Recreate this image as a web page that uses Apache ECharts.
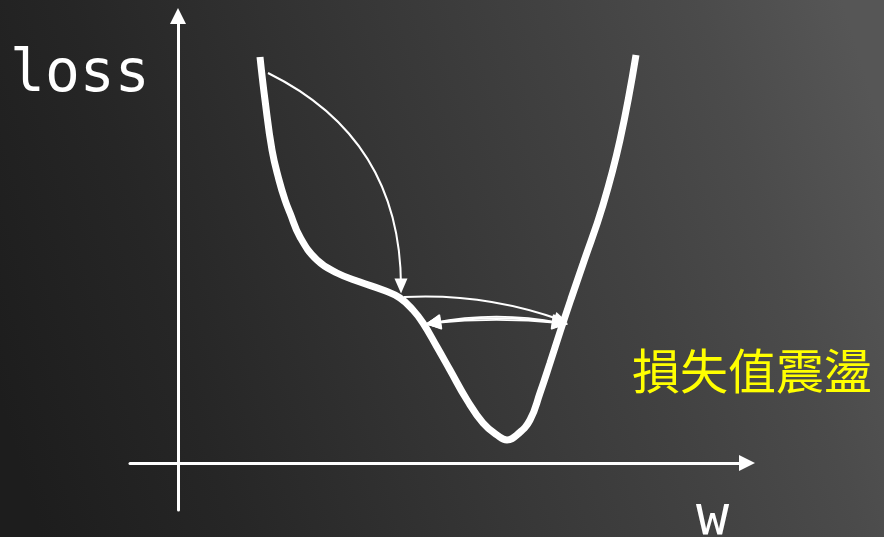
<!DOCTYPE html>
<html>
<head>
<meta charset="utf-8">
<script src="https://cdn.jsdelivr.net/npm/echarts@6/dist/echarts.min.js"></script>
<style>
html,body{margin:0;padding:0;background:#2a2a2a;}
#c{width:884px;height:537px;}
</style>
</head>
<body>
<div id="c"></div>
<script>
// Loss curve (w, loss) in arbitrary units
const curveW    = [0.82,0.87,0.94,1.01,1.07,1.12,1.22,1.39,1.59,1.82,2.05,2.22,2.35,2.45,2.59,2.72,2.89,3.05,3.19,3.29,3.40,3.52,3.62,3.72,3.82,3.93,4.05,4.25,4.42,4.58];
const curveLoss = [4.06,3.63,3.13,2.83,2.63,2.50,2.26,2.03,1.90,1.81,1.73,1.65,1.53,1.40,1.16,0.93,0.63,0.40,0.28,0.23,0.29,0.43,0.70,1.00,1.31,1.64,1.99,2.58,3.23,4.08];

// Step arrows: [from, to] in (w, loss)
const jumpArrow  = [[0.90,3.90],[2.23,1.77]];
const upperArrow = [[2.26,1.66],[3.83,1.43]];
const lowerArrow = [[2.55,1.40],[3.82,1.40]];

const axisLabelY = 'loss';
const axisLabelX = 'w';
const noteText = '損失值震盪';

const chart = echarts.init(document.getElementById('c'), null, {renderer:'canvas'});

const curveData = curveW.map((w,i)=>[w, curveLoss[i]]);

const axisCommon = {
  type:'value',
  axisLine:{show:true,onZero:true,symbol:['none','triangle'],symbolSize:[16,16],lineStyle:{color:'#ffffff',width:3}},
  axisTick:{show:false},
  axisLabel:{show:false},
  splitLine:{show:false}
};

chart.setOption({
  animation:false,
  backgroundColor:{
    type:'linear', x:0, y:0.75, x2:1, y2:0.25,
    colorStops:[
      {offset:0, color:'#1d1d1d'},
      {offset:0.2, color:'#262626'},
      {offset:0.5, color:'#373737'},
      {offset:0.7, color:'#424242'},
      {offset:0.85, color:'#4b4b4b'},
      {offset:1, color:'#565656'}
    ]
  },
  grid:{left:130,right:137,top:16,bottom:27,containLabel:false},
  xAxis:Object.assign({},axisCommon,{min:-0.48,max:5.69}),
  yAxis:Object.assign({},axisCommon,{min:-0.47,max:4.47}),
  graphic:[
    {type:'text',left:10,top:47,style:{text:axisLabelY,font:'58px "DejaVu Sans Mono"',fill:'#ffffff'}},
    {type:'text',left:696,top:492,style:{text:axisLabelX,font:'55px "DejaVu Sans Mono"',fill:'#ffffff'}},
    {type:'text',left:632,top:347,style:{text:noteText,font:'48px "Noto Sans CJK TC"',fill:'#ffff00'}}
  ],
  series:[
    {
      type:'line',
      data:curveData,
      smooth:0.45,
      symbol:'none',
      lineStyle:{color:'#ffffff',width:7,cap:'butt'}
    },
    {
      type:'lines',
      coordinateSystem:'cartesian2d',
      symbol:['none','triangle'],
      symbolSize:[[1,1],[13,15]],
      lineStyle:{color:'#ffffff',width:2,opacity:1,curveness:0.31},
      data:[{coords:jumpArrow}]
    },
    {
      type:'lines',
      coordinateSystem:'cartesian2d',
      symbol:['none','triangle'],
      symbolSize:[[1,1],[12,14]],
      lineStyle:{color:'#ffffff',width:2,opacity:1,curveness:0.1},
      data:[{coords:upperArrow}]
    },
    {
      type:'lines',
      coordinateSystem:'cartesian2d',
      symbol:['triangle','triangle'],
      symbolSize:[[15,16],[15,16]],
      lineStyle:{color:'#ffffff',width:1.8,opacity:1},
      data:[
        {coords:lowerArrow,lineStyle:{curveness:0.05}},
        {coords:lowerArrow,lineStyle:{curveness:0.075}},
        {coords:lowerArrow,lineStyle:{curveness:0.1}}
      ]
    }
  ]
});
</script>
</body>
</html>
